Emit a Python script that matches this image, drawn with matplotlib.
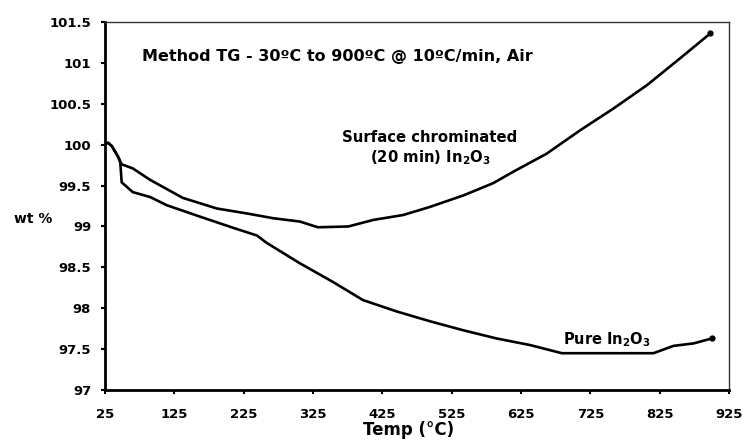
"""TG curves of pure and surface chrominated In2O3."""

import matplotlib
matplotlib.use("Agg")
import matplotlib.pyplot as plt

plt.rcParams["font.family"] = ["DejaVu Sans"]
plt.rcParams["font.weight"] = "bold"
plt.rcParams["mathtext.fontset"] = "custom"
plt.rcParams["mathtext.rm"] = "DejaVu Sans:bold"
plt.rcParams["mathtext.default"] = "rm"

# surface chrominated (20 min) In2O3
chrom_temp = [25, 30, 35, 44, 49, 65, 90, 137, 186, 229, 268, 306, 332, 376,
              412, 455, 494, 542, 585, 614, 662, 711, 758, 807, 855, 898]
chrom_wt = [100.02, 100.02, 99.98, 99.85, 99.76, 99.71, 99.57, 99.35, 99.22,
            99.16, 99.10, 99.06, 98.99, 99.00, 99.08, 99.14, 99.24, 99.38,
            99.53, 99.67, 99.89, 100.18, 100.44, 100.73, 101.06, 101.36]

# pure In2O3
pure_temp = [25, 30, 35, 44, 47, 49, 65, 90, 114, 162, 211, 244, 258, 306,
             354, 397, 446, 494, 542, 590, 638, 684, 750, 816, 845, 874, 900]
pure_wt = [100.02, 100.02, 99.98, 99.85, 99.78, 99.54, 99.42, 99.36, 99.26,
           99.12, 98.98, 98.89, 98.80, 98.55, 98.32, 98.10, 97.96, 97.84,
           97.73, 97.63, 97.55, 97.45, 97.45, 97.45, 97.54, 97.57, 97.63]

x_ticks = [25, 125, 225, 325, 425, 525, 625, 725, 825, 925]
y_ticks = [97, 97.5, 98, 98.5, 99, 99.5, 100, 100.5, 101, 101.5]
y_labels = ["97", "97.5", "98", "98.5", "99", "99.5", "100", "100.5", "101", "101.5"]

fig = plt.figure(figsize=(7.45, 4.43), dpi=100)
ax = fig.add_axes([0.141, 0.1196, 0.8375, 0.8307])

for temp, wt in [(chrom_temp, chrom_wt), (pure_temp, pure_wt)]:
    ax.plot(temp, wt, color="black", lw=1.9, solid_joinstyle="miter",
            marker="o", markevery=[len(temp) - 1], ms=3.5)

ax.set_xlim(25, 925)
ax.set_ylim(97, 101.5)
ax.set_xticks(x_ticks)
ax.set_yticks(y_ticks)
ax.set_yticklabels(y_labels)
ax.tick_params(direction="out", length=3, width=1.5, labelsize=9.5)
ax.tick_params(axis="x", pad=10)
ax.tick_params(axis="y", pad=7)
for lbl in ax.get_xticklabels() + ax.get_yticklabels():
    lbl.set_fontweight("bold")

for side in ["left", "bottom"]:
    ax.spines[side].set_linewidth(2)
    ax.spines[side].set_color("black")
for side in ["top", "right"]:
    ax.spines[side].set_linewidth(1)
    ax.spines[side].set_color("#333333")

ax.set_xlabel("Temp (°C)", fontsize=12, fontweight="bold")
ax.xaxis.set_label_coords(0.487, -0.109)
ax.xaxis.label.set_va("center")
fig.text(0.0443, 0.5056, "wt %", fontsize=10, fontweight="bold",
         ha="center", va="center")

ax.text(0.3726, 0.905, "Method TG - 30ºC to 900ºC @ 10ºC/min, Air",
        transform=ax.transAxes, fontsize=11.5, fontweight="bold",
        ha="center", va="center")
ax.text(0.521, 0.656, "Surface chrominated\n(20 min) In$_2$O$_3$",
        transform=ax.transAxes, fontsize=10.7, fontweight="bold",
        ha="center", va="center", linespacing=1.2)
ax.text(0.804, 0.136, "Pure In$_2$O$_3$",
        transform=ax.transAxes, fontsize=10.5, fontweight="bold",
        ha="center", va="center")

fig.savefig("out.png", dpi=100)
